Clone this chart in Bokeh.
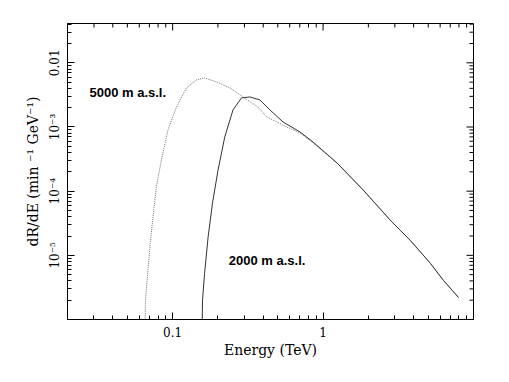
import math
from bokeh.plotting import figure
from bokeh.models import FixedTicker, Label, Range1d
from bokeh.embed import file_html
from bokeh.resources import INLINE

# --- data ---
energy_5000 = [0.0645, 0.066, 0.0685, 0.071, 0.074, 0.0779, 0.0841, 0.0931, 0.106, 0.1235,
               0.144, 0.163, 0.1955, 0.24, 0.293, 0.369, 0.423, 0.541, 0.703, 0.858,
               1.24, 1.85, 2.80, 3.80, 5.17, 6.31, 7.94]
rate_5000 = [1e-7, 2.0e-6, 5.8e-6, 1.54e-5, 3.9e-5, 1.15e-4, 3.05e-4, 8.97e-4, 2.05e-3, 4.07e-3,
             5.42e-3, 5.83e-3, 5.05e-3, 4.07e-3, 2.94e-3, 2.05e-3, 1.43e-3, 1.07e-3, 8.06e-4, 5.62e-4,
             2.74e-4, 1.04e-4, 3.52e-5, 1.71e-5, 7.5e-6, 4.07e-6, 2.21e-6]

energy_2000 = [0.155, 0.158, 0.163, 0.172, 0.184, 0.2004, 0.222, 0.252, 0.287, 0.326,
               0.38, 0.443, 0.541, 0.703, 0.858,
               1.24, 1.85, 2.80, 3.80, 5.17, 6.31, 7.94]
rate_2000 = [1e-7, 2.0e-6, 5.2e-6, 1.91e-5, 6.5e-5, 2.13e-4, 6.98e-4, 1.85e-3, 2.84e-3, 2.94e-3,
             2.64e-3, 1.85e-3, 1.20e-3, 8.35e-4, 5.83e-4,
             2.74e-4, 1.04e-4, 3.52e-5, 1.71e-5, 7.5e-6, 4.07e-6, 2.21e-6]

x_start, x_end = 0.02, 10.0
y_start, y_end = 1e-6, 0.041

x_major = [0.1, 1.0]
x_labels = {0.1: "0.1", 1.0: "1"}
x_minor = [0.03, 0.04, 0.05, 0.06, 0.07, 0.08, 0.09,
           0.2, 0.3, 0.4, 0.5, 0.6, 0.7, 0.8, 0.9,
           2.0, 3.0, 4.0, 5.0, 6.0, 7.0, 8.0, 9.0]
y_major = [1e-5, 1e-4, 1e-3, 1e-2]
y_labels = {1e-5: "10\u207b\u2075", 1e-4: "10\u207b\u2074", 1e-3: "10\u207b\u00b3", 1e-2: "0.01"}
y_minor = [m * d for d in [1e-6, 1e-5, 1e-4, 1e-3] for m in range(2, 10)] + [0.02, 0.03, 0.04]

label_5000 = ("5000 m a.s.l.", 0.028, 3.5e-3)
label_2000 = ("2000 m a.s.l.", 0.236, 8.4e-6)

SERIF = "DejaVu Serif"

p = figure(width=493, height=366, x_axis_type="log", y_axis_type="log",
           x_range=Range1d(x_start, x_end), y_range=Range1d(y_start, y_end),
           output_backend="svg", toolbar_location=None,
           min_border_left=67, min_border_right=20, min_border_top=23, min_border_bottom=47)
p.xgrid.visible = False
p.ygrid.visible = False
p.outline_line_color = "black"
p.outline_line_width = 1

def style_axis(ax, major, minor, labels):
    ax.ticker = FixedTicker(ticks=major, minor_ticks=minor)
    ax.major_tick_in = 7
    ax.major_tick_out = 0
    ax.minor_tick_in = 4
    ax.minor_tick_out = 0
    ax.major_tick_line_color = "black"
    ax.minor_tick_line_color = "black"
    ax.major_tick_line_width = 1
    ax.minor_tick_line_width = 1
    ax.axis_line_color = "black"
    ax.major_label_overrides = labels
    ax.major_label_text_font = SERIF
    ax.major_label_text_font_size = "12px"
    ax.major_label_text_color = "black"
    ax.axis_label_text_font = SERIF
    ax.axis_label_text_font_style = "normal"
    ax.axis_label_text_font_size = "14px"
    ax.axis_label_text_color = "black"

xa = p.xaxis[0]
style_axis(xa, x_major, x_minor, x_labels)
xa.axis_label = "Energy (TeV)"
xa.major_label_standoff = 7
xa.axis_label_standoff = 2

ya = p.yaxis[0]
style_axis(ya, y_major, y_minor, y_labels)
ya.axis_label = "dR/dE (min \u207b\u00b9 GeV\u207b\u00b9)"
ya.major_label_orientation = "vertical"
ya.major_label_standoff = 5
ya.axis_label_standoff = 5

# inward tick marks on the top and right edges of the frame
tick_kw = dict(length_units="screen", line_color="black", line_width=1)
for ticks, ln in ((x_major, 7), (x_minor, 4)):
    p.ray(x=ticks, y=[y_end] * len(ticks), length=ln, angle=-math.pi / 2, **tick_kw)
for ticks, ln in ((y_major, 7), (y_minor, 4)):
    p.ray(x=[x_end] * len(ticks), y=ticks, length=ln, angle=math.pi, **tick_kw)

p.line(energy_5000, rate_5000, line_color="#777777", line_width=1, line_dash="1 1")
p.line(energy_2000, rate_2000, line_color="#333333", line_width=1)

for txt, lx, ly in (label_5000, label_2000):
    p.add_layout(Label(x=lx, y=ly, text=txt, text_font="Liberation Sans",
                       text_font_style="bold", text_font_size="13px",
                       text_color="black", text_baseline="middle", text_align="left"))

open("out.html", "w").write(file_html(p, INLINE))
